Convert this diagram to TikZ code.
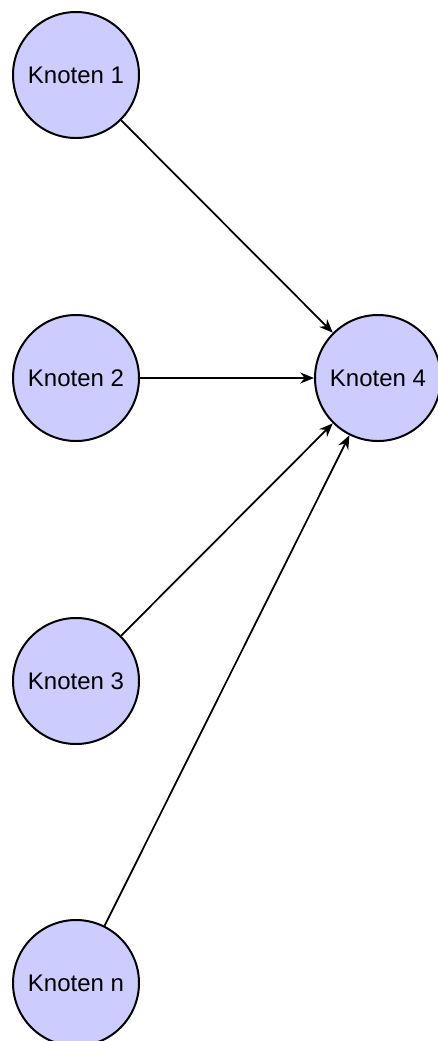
\documentclass[tikz,border=0pt]{standalone}
\usepackage{fontspec}
\setmainfont{Liberation Sans}
\usetikzlibrary{arrows.meta}
\begin{document}
\begin{tikzpicture}[x=0.4pt,y=-0.4pt,
  knoten/.style={circle,draw=black,fill=blue!20,line width=0.8pt,
    minimum size=50.4pt,inner sep=0pt,font=\fontsize{9.6}{11}\selectfont},
  kante/.style={line width=0.7pt,-{Stealth[length=5.5pt,width=4.4pt,inset=1.8pt]}}]
  \clip (0,0) rectangle (438,1041);
  % nodes on the left column, target node on the right
  \node[knoten] (k1) at (76,75) {Knoten 1};
  \node[knoten] (k2) at (76,378) {Knoten 2};
  \node[knoten] (k3) at (76,681) {Knoten 3};
  \node[knoten] (kn) at (76,983) {Knoten n};
  \node[knoten] (k4) at (378,378) {Knoten 4};
  % all edges point into Knoten 4
  \draw[kante] (k1) -- (k4);
  \draw[kante] (k2) -- (k4);
  \draw[kante] (k3) -- (k4);
  \draw[kante] (kn) -- (k4);
\end{tikzpicture}
\end{document}
